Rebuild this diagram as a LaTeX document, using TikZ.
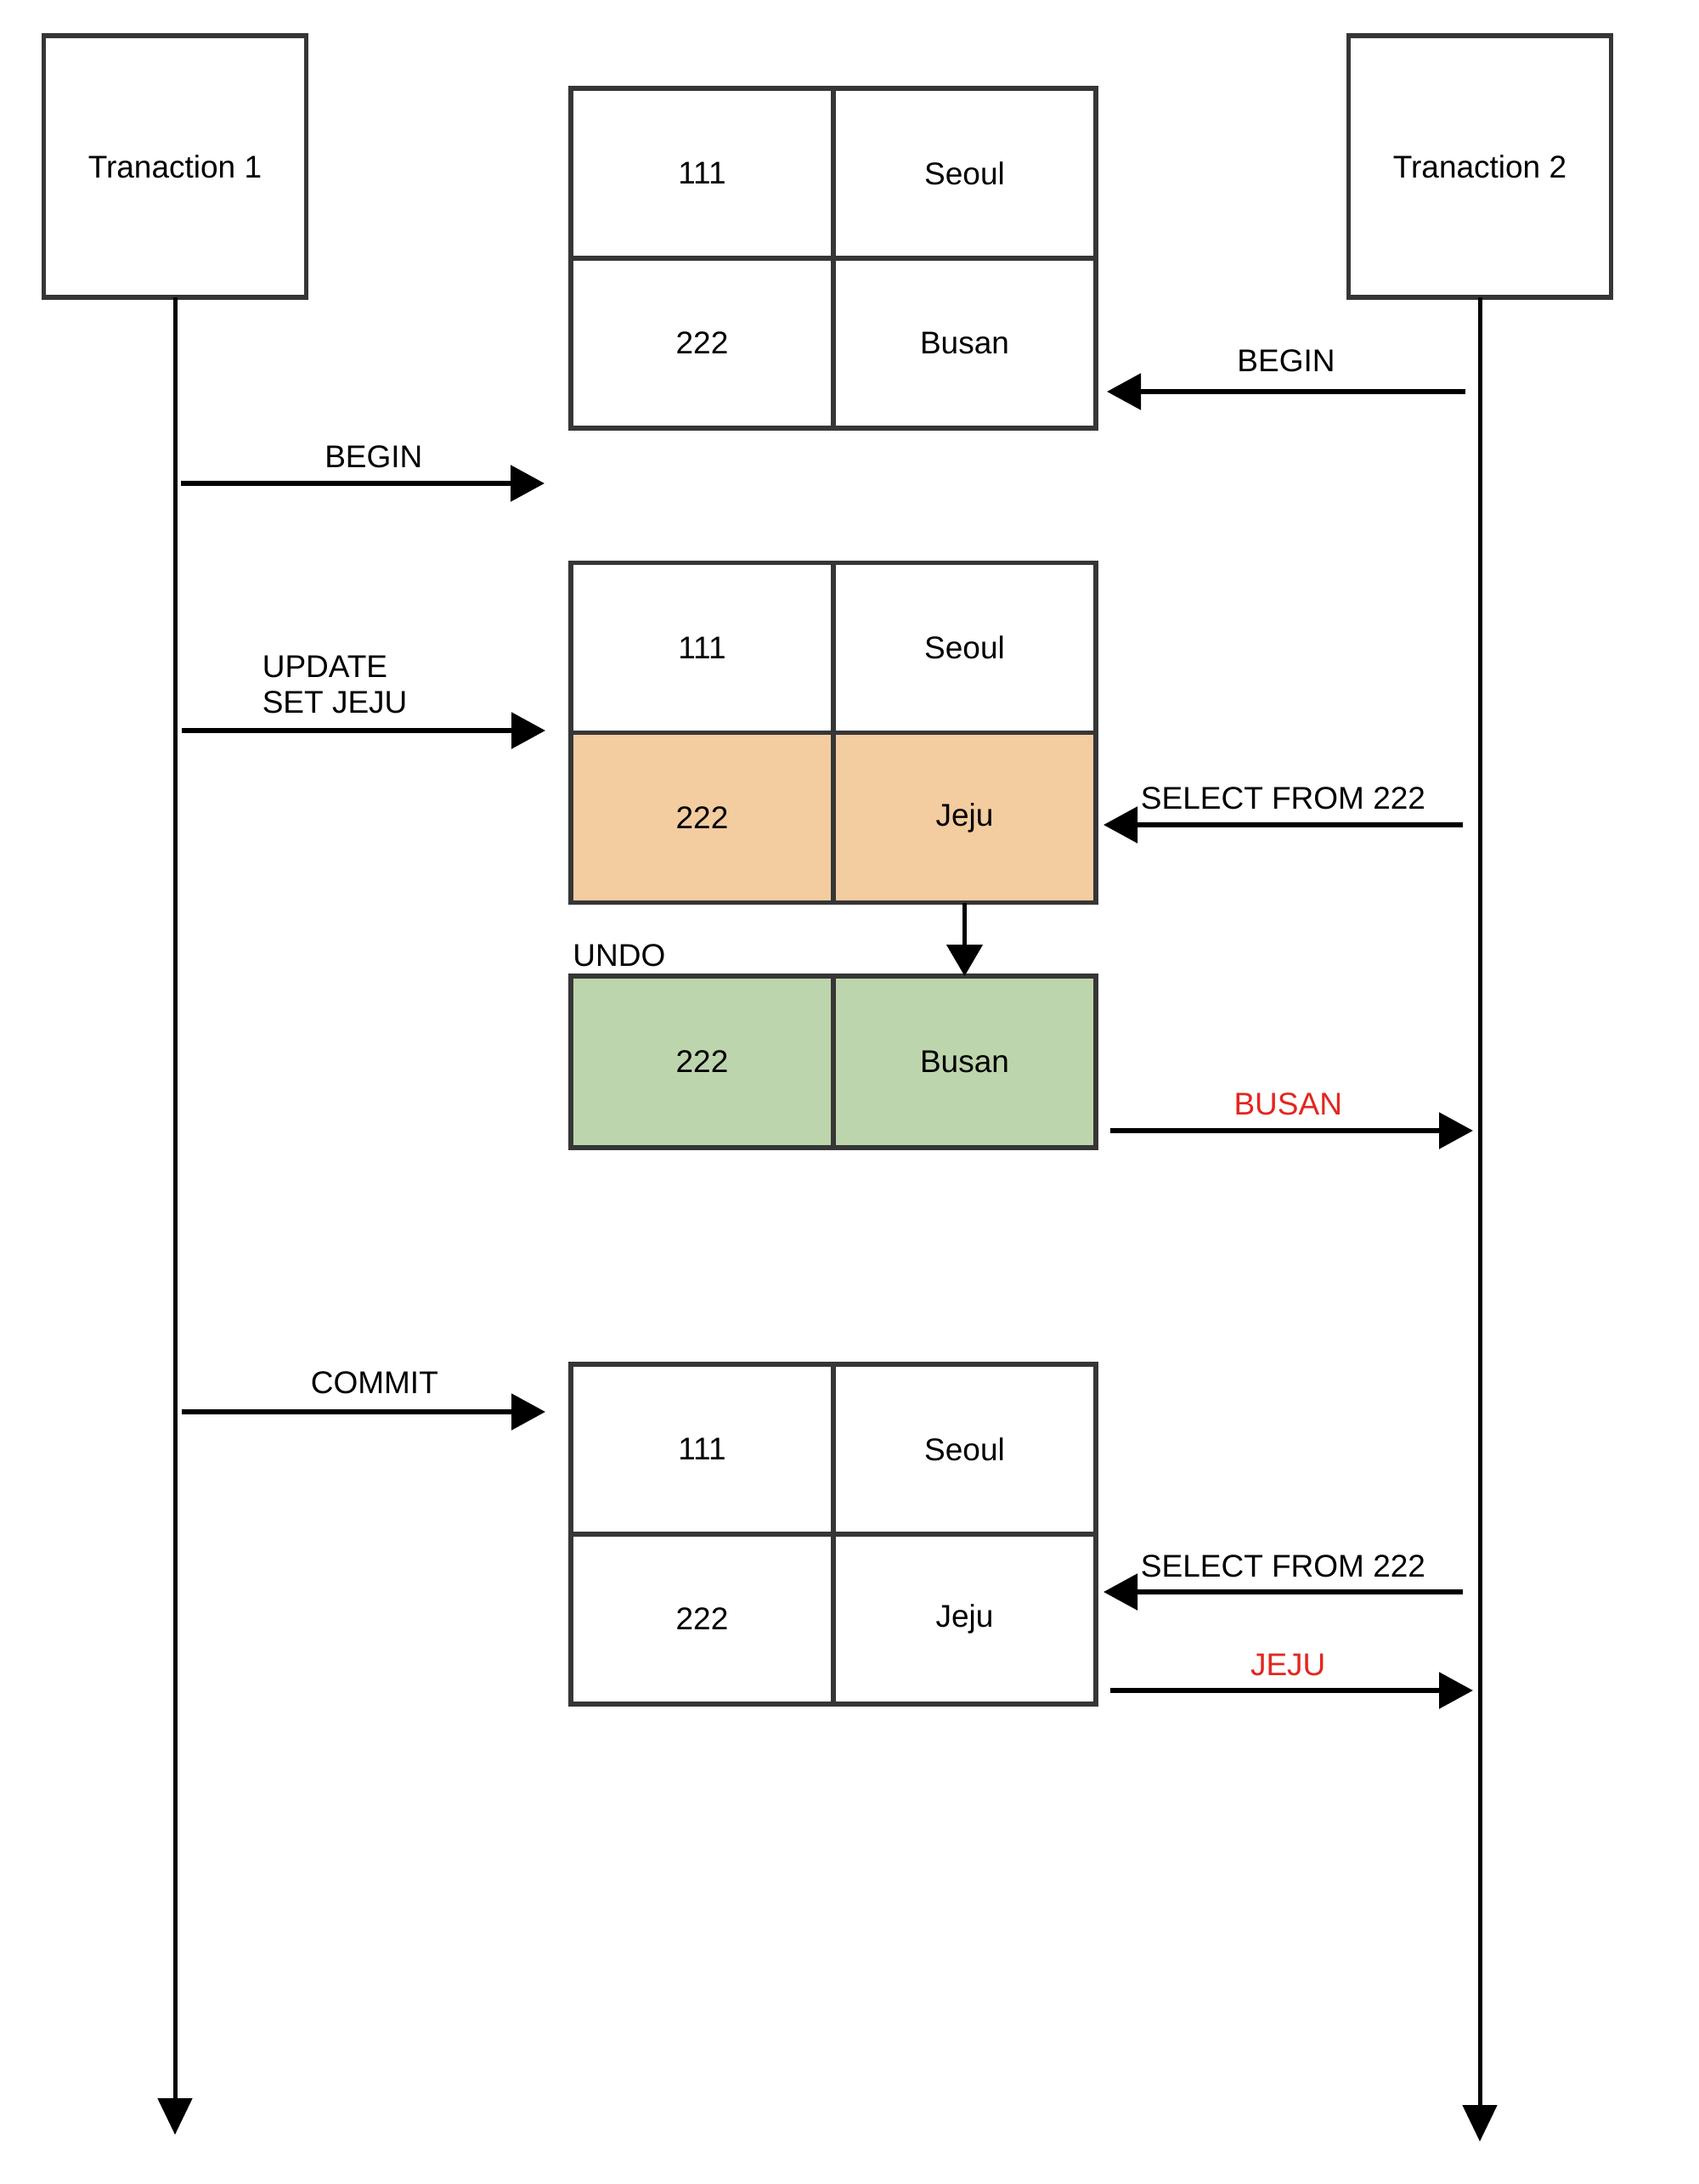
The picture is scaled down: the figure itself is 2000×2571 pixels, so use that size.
\documentclass[tikz,border=0pt]{standalone}
\usepackage{fontspec}
\setmainfont{Liberation Sans}
\usepackage{xcolor}
\usetikzlibrary{arrows.meta,positioning}

\definecolor{boxline}{HTML}{363636}
\definecolor{jejufill}{HTML}{F3CCA0}
\definecolor{undofill}{HTML}{BDD5AD}
\definecolor{msgred}{HTML}{E3261F}

\begin{document}
\begin{tikzpicture}[x=0.5pt,y=-0.5pt,>={Triangle[length=20pt,width=21pt]},
	every node/.style={font=\fontsize{18.5}{21}\selectfont},
	txbox/.style={draw=boxline,line width=2.6pt,minimum width=154.5pt,minimum height=154pt,inner sep=0pt,outer sep=0pt},
	cell/.style={draw=boxline,line width=2.6pt,minimum width=154.5pt,minimum height=100pt,inner sep=0pt,outer sep=0pt},
	life/.style={line width=2.5pt,-{Triangle[length=21.5pt,width=20pt]}},
	msg/.style={line width=2.8pt,->},
	lbl/.style={inner sep=0pt,text depth=0pt},
	hot/.style={text=msgred}]
	\useasboundingbox (0,0) rectangle (2000,2571);

	\node (T1)  at (206,196)     [txbox]  {Tranaction 1};
	\node (T2)  at (1742,196)    [txbox]  {Tranaction 2};

	% tables
	\node (k11) at (826.5,204)   [cell]   {111};
	\node (v11) [cell, right=0pt of k11]  {Seoul};
	\node (k12) [cell, below=0pt of k11]  {222};
	\node (v12) [cell, right=0pt of k12]  {Busan};

	\node (k21) at (826.5,762.5) [cell]   {111};
	\node (v21) [cell, right=0pt of k21]  {Seoul};
	\node (k22) [cell, fill=jejufill, below=0pt of k21] {222};
	\node (v22) [cell, fill=jejufill, right=0pt of k22] {Jeju};

	\node (k31) at (826.5,1250)  [cell, fill=undofill, minimum height=101pt] {222};
	\node (v31) [cell, fill=undofill, minimum height=101pt, right=0pt of k31] {Busan};
	\node (undo) [lbl, above right=5.5pt and 1pt of k31.north west] {UNDO};

	\node (k41) at (826.5,1706)  [cell]   {111};
	\node (v41) [cell, right=0pt of k41]  {Seoul};
	\node (k42) [cell, below=0pt of k41]  {222};
	\node (v42) [cell, right=0pt of k42]  {Jeju};

	% lifelines
	\coordinate (T1end) at (206,2513);
	\coordinate (T2end) at (1742,2521);
	\draw [life] (T1.south) -- (T1end);
	\draw [life] (T2.south) -- (T2end);

	% messages
	\coordinate (b2a) at (1725,461);  \coordinate (b2b) at (1303,461);
	\coordinate (b1a) at (213,569);   \coordinate (b1b) at (641,569);
	\coordinate (upa) at (214,860);   \coordinate (upb) at (642,860);
	\coordinate (s1a) at (1722,971);  \coordinate (s1b) at (1299,971);
	\coordinate (r1a) at (1307,1331); \coordinate (r1b) at (1734,1331);
	\coordinate (cma) at (214,1662);  \coordinate (cmb) at (642,1662);
	\coordinate (s2a) at (1722,1874); \coordinate (s2b) at (1299,1874);
	\coordinate (r2a) at (1307,1990); \coordinate (r2b) at (1734,1990);

	\draw [msg] (b2a) -- node[lbl,above=10.5pt] {BEGIN} (b2b);
	\draw [msg] (b1a) -- node[lbl,above=8pt,pos=0.53] {BEGIN} (b1b);
	\draw [msg] (upa) -- (upb) node[lbl,pos=0,anchor=south west,align=left,xshift=46pt,yshift=9pt] {UPDATE\\SET JEJU};
	\draw [msg] (s1a) -- node[lbl,above=8pt] {SELECT FROM 222} (s1b);
	\draw [msg] (r1a) -- node[lbl,hot,above=8pt,pos=0.49] {BUSAN} (r1b);
	\draw [line width=2.2pt,-{Triangle[length=18.5pt,width=21pt]}] (v22.south) -- (v31.north);
	\draw [msg] (cma) -- node[lbl,above=9.5pt,pos=0.53] {COMMIT} (cmb);
	\draw [msg] (s2a) -- node[lbl,above=7.5pt] {SELECT FROM 222} (s2b);
	\draw [msg] (r2a) -- node[lbl,hot,above=7.5pt,pos=0.49] {JEJU} (r2b);
\end{tikzpicture}
\end{document}
